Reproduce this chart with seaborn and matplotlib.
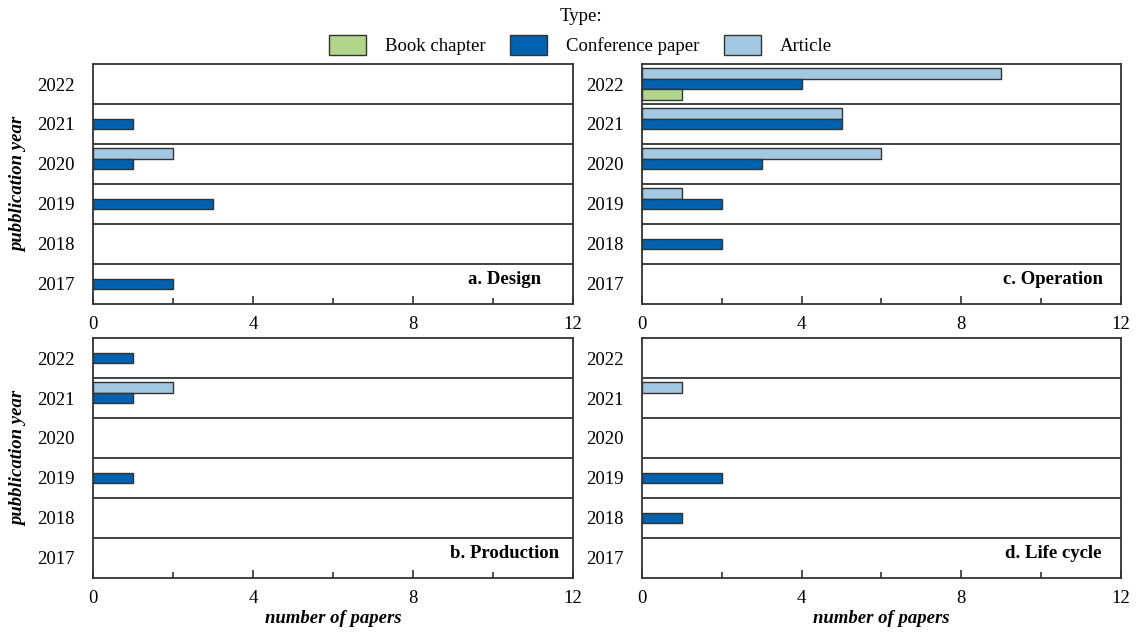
import matplotlib
matplotlib.use("Agg")
import matplotlib.pyplot as plt
from matplotlib.patches import Patch
from matplotlib.ticker import MultipleLocator
import seaborn as sns
import pandas as pd

# years shown top to bottom
years = ["2022", "2021", "2020", "2019", "2018", "2017"]
types = ["Book chapter", "Conference paper", "Article"]

# counts per year, same order as `years`
design_book = [0, 0, 0, 0, 0, 0]
design_conf = [0, 1, 1, 3, 0, 2]
design_article = [0, 0, 2, 0, 0, 0]

production_book = [0, 0, 0, 0, 0, 0]
production_conf = [1, 1, 0, 1, 0, 0]
production_article = [0, 2, 0, 0, 0, 0]

operation_book = [1, 0, 0, 0, 0, 0]
operation_conf = [4, 5, 3, 2, 2, 0]
operation_article = [9, 5, 6, 1, 0, 0]

lifecycle_book = [0, 0, 0, 0, 0, 0]
lifecycle_conf = [0, 0, 0, 2, 1, 0]
lifecycle_article = [0, 1, 0, 0, 0, 0]

panel_titles = ["a. Design", "b. Production", "c. Operation", "d. Life cycle"]

colors = {"Book chapter": "#b1d68b", "Conference paper": "#0061ae", "Article": "#a3c8e3"}
EDGE = "#333333"
FS = 13.5


def make_frame(book, conf, article):
    # keep zero rows so every panel dodges with all three types
    rows = []
    for t, vals in zip(types, [book, conf, article]):
        for y, v in zip(years, vals):
            rows.append({"year": y, "type": t, "count": v})
    return pd.DataFrame(rows)


panels = [
    make_frame(design_book, design_conf, design_article),
    make_frame(production_book, production_conf, production_article),
    make_frame(operation_book, operation_conf, operation_article),
    make_frame(lifecycle_book, lifecycle_conf, lifecycle_article),
]

sns.set_theme(style="white")
plt.rcParams["font.family"] = ["Liberation Serif", "DejaVu Serif"]
plt.rcParams["text.color"] = "black"
plt.rcParams["axes.labelcolor"] = "black"
plt.rcParams["xtick.color"] = "black"
plt.rcParams["ytick.color"] = "black"

fig = plt.figure(figsize=(11.36, 6.35), dpi=100)

# left, bottom, width, height for a, b, c, d
positions = [
    (0.0819, 0.5213, 0.4225, 0.3779),
    (0.0819, 0.0898, 0.4225, 0.3779),
    (0.5651, 0.5213, 0.4217, 0.3779),
    (0.5651, 0.0898, 0.4217, 0.3779),
]

# top-to-bottom inside a year: Article, Conference paper, Book chapter
hue_order = ["Article", "Conference paper", "Book chapter"]

for i, (df, title, pos) in enumerate(zip(panels, panel_titles, positions)):
    ax = fig.add_axes(pos)
    sns.barplot(data=df, x="count", y="year", hue="type", order=years,
                hue_order=hue_order, palette=colors, orient="h", width=0.8,
                saturation=1, edgecolor=EDGE, linewidth=1.0, legend=False,
                ax=ax)
    # hide empty bars so they don't leave a line at x=0
    for p in ax.patches:
        if p.get_width() == 0:
            p.set_visible(False)

    for k in range(len(years) - 1):
        ax.axhline(k + 0.5, color=EDGE, lw=1.3, zorder=3)

    ax.set_xlim(0, 12)
    ax.set_ylim(len(years) - 0.5, -0.5)
    ax.xaxis.set_major_locator(MultipleLocator(4))
    ax.xaxis.set_minor_locator(MultipleLocator(2))
    ax.tick_params(axis="x", which="both", bottom=True, top=False)
    ax.tick_params(axis="x", which="major", direction="in", length=6,
                   width=1.2, color=EDGE, pad=9, labelsize=FS)
    ax.tick_params(axis="x", which="minor", direction="in", length=4,
                   width=1.2, color=EDGE)
    ax.tick_params(axis="y", length=0, pad=13, labelsize=FS)
    for s in ax.spines.values():
        s.set_color(EDGE)
        s.set_linewidth(1.3)

    ax.text(0.858, 0.104, title, transform=ax.transAxes, ha="center",
            va="center", fontsize=FS, fontweight="bold")

    if i < 2:
        ax.set_ylabel("pubblication year", fontsize=FS, fontweight="bold",
                      fontstyle="italic", labelpad=7)
    else:
        ax.set_ylabel("")
    if i in (1, 3):
        ax.set_xlabel("number of papers", fontsize=FS, fontweight="bold",
                      fontstyle="italic", labelpad=2)
    else:
        ax.set_xlabel("")

handles = [Patch(facecolor=colors[t], edgecolor=EDGE, linewidth=1.0, label=t)
           for t in types]
fig.legend(handles=handles, loc="upper center", bbox_to_anchor=(0.511, 1.005),
           ncol=3, title="Type:", frameon=False, fontsize=FS, title_fontsize=FS,
           handlelength=2.0, handleheight=1.2, columnspacing=1.3,
           handletextpad=1.0, borderaxespad=0.2, labelspacing=0.55)

fig.savefig("out.png", dpi=100)
